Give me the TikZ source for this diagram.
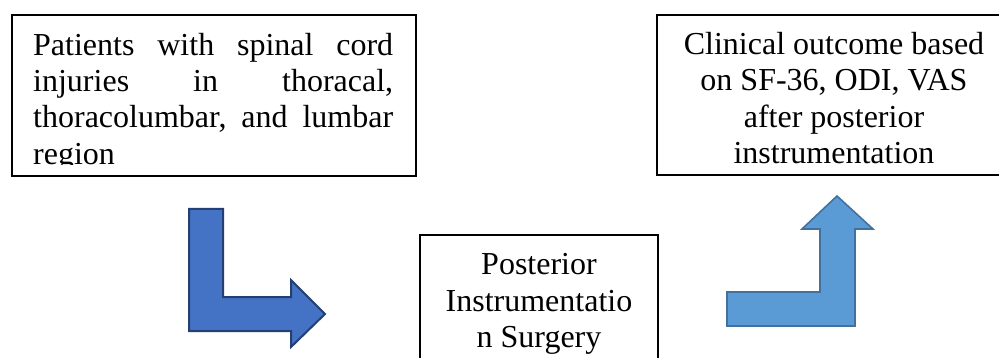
\documentclass[tikz,border=0pt]{standalone}
\usepackage{fontspec}
\setmainfont{Liberation Serif}
\definecolor{arrowA}{HTML}{4472C4}
\definecolor{arrowAline}{HTML}{233F73}
\definecolor{arrowB}{HTML}{5B9BD5}
\definecolor{arrowBline}{HTML}{41719C}
\tikzset{
  boxline/.style={draw=black, line width=1.3pt},
  boxtext/.style={inner sep=0pt, font=\fontsize{32}{36.4}\selectfont},
  arrowone/.style={fill=arrowA, draw=arrowAline, line width=2pt, line join=miter},
  arrowtwo/.style={fill=arrowB, draw=arrowBline, line width=1.6pt, line join=miter},
}
\begin{document}
\begin{tikzpicture}[x=1pt,y=-1pt]
\useasboundingbox (0,0) rectangle (999,358);
\clip (0,0) rectangle (999,358);
% Box 1
\begin{scope}
  \clip (12,15) rectangle (416,164.5);
  \node[boxtext, anchor=north west, text width=360pt, align=left] (t1) at (33,29.4)
    {\strut Patients\hfill with\hfill spinal\hfill cord\\
     injuries\hfill in\hfill thoracal,\\
     thoracolumbar,\hfill and\hfill lumbar\\
     region};
\end{scope}
\draw[boxline] (12,15) rectangle (416,176) coordinate (b1);
% Box 2
\begin{scope}
  \clip (657,15) rectangle (1015,166);
  \node[boxtext, anchor=north, align=center] (t2) at (834,28.6)
    {\strut Clinical outcome based\\on SF-36, ODI, VAS\\after posterior\\instrumentation};
\end{scope}
\draw[boxline] (657,15) rectangle (1015,175) coordinate (b2);
% Box 3
\begin{scope}
  \clip (420,235) rectangle (658,380);
  \node[boxtext, anchor=north, align=center] (t3) at (539,249.2)
    {\strut Posterior\\Instrumentatio\\n Surgery};
\end{scope}
\draw[boxline] (420,235) rectangle (658,380) coordinate (b3);
% Bent arrow 1 (down then right)
\draw[arrowone] (189,209) -- (223,209) -- (223,297) -- (291,297) -- (291,280)
  -- (325,314) -- (291,347) -- (291,331) -- (189,331) -- cycle;
% Bent arrow 2 (right then up)
\draw[arrowtwo] (727,292) -- (820,292) -- (820,229) -- (802,229) -- (837,196)
  -- (873,229) -- (855,229) -- (855,326) -- (727,326) -- cycle;
\end{tikzpicture}
\end{document}
